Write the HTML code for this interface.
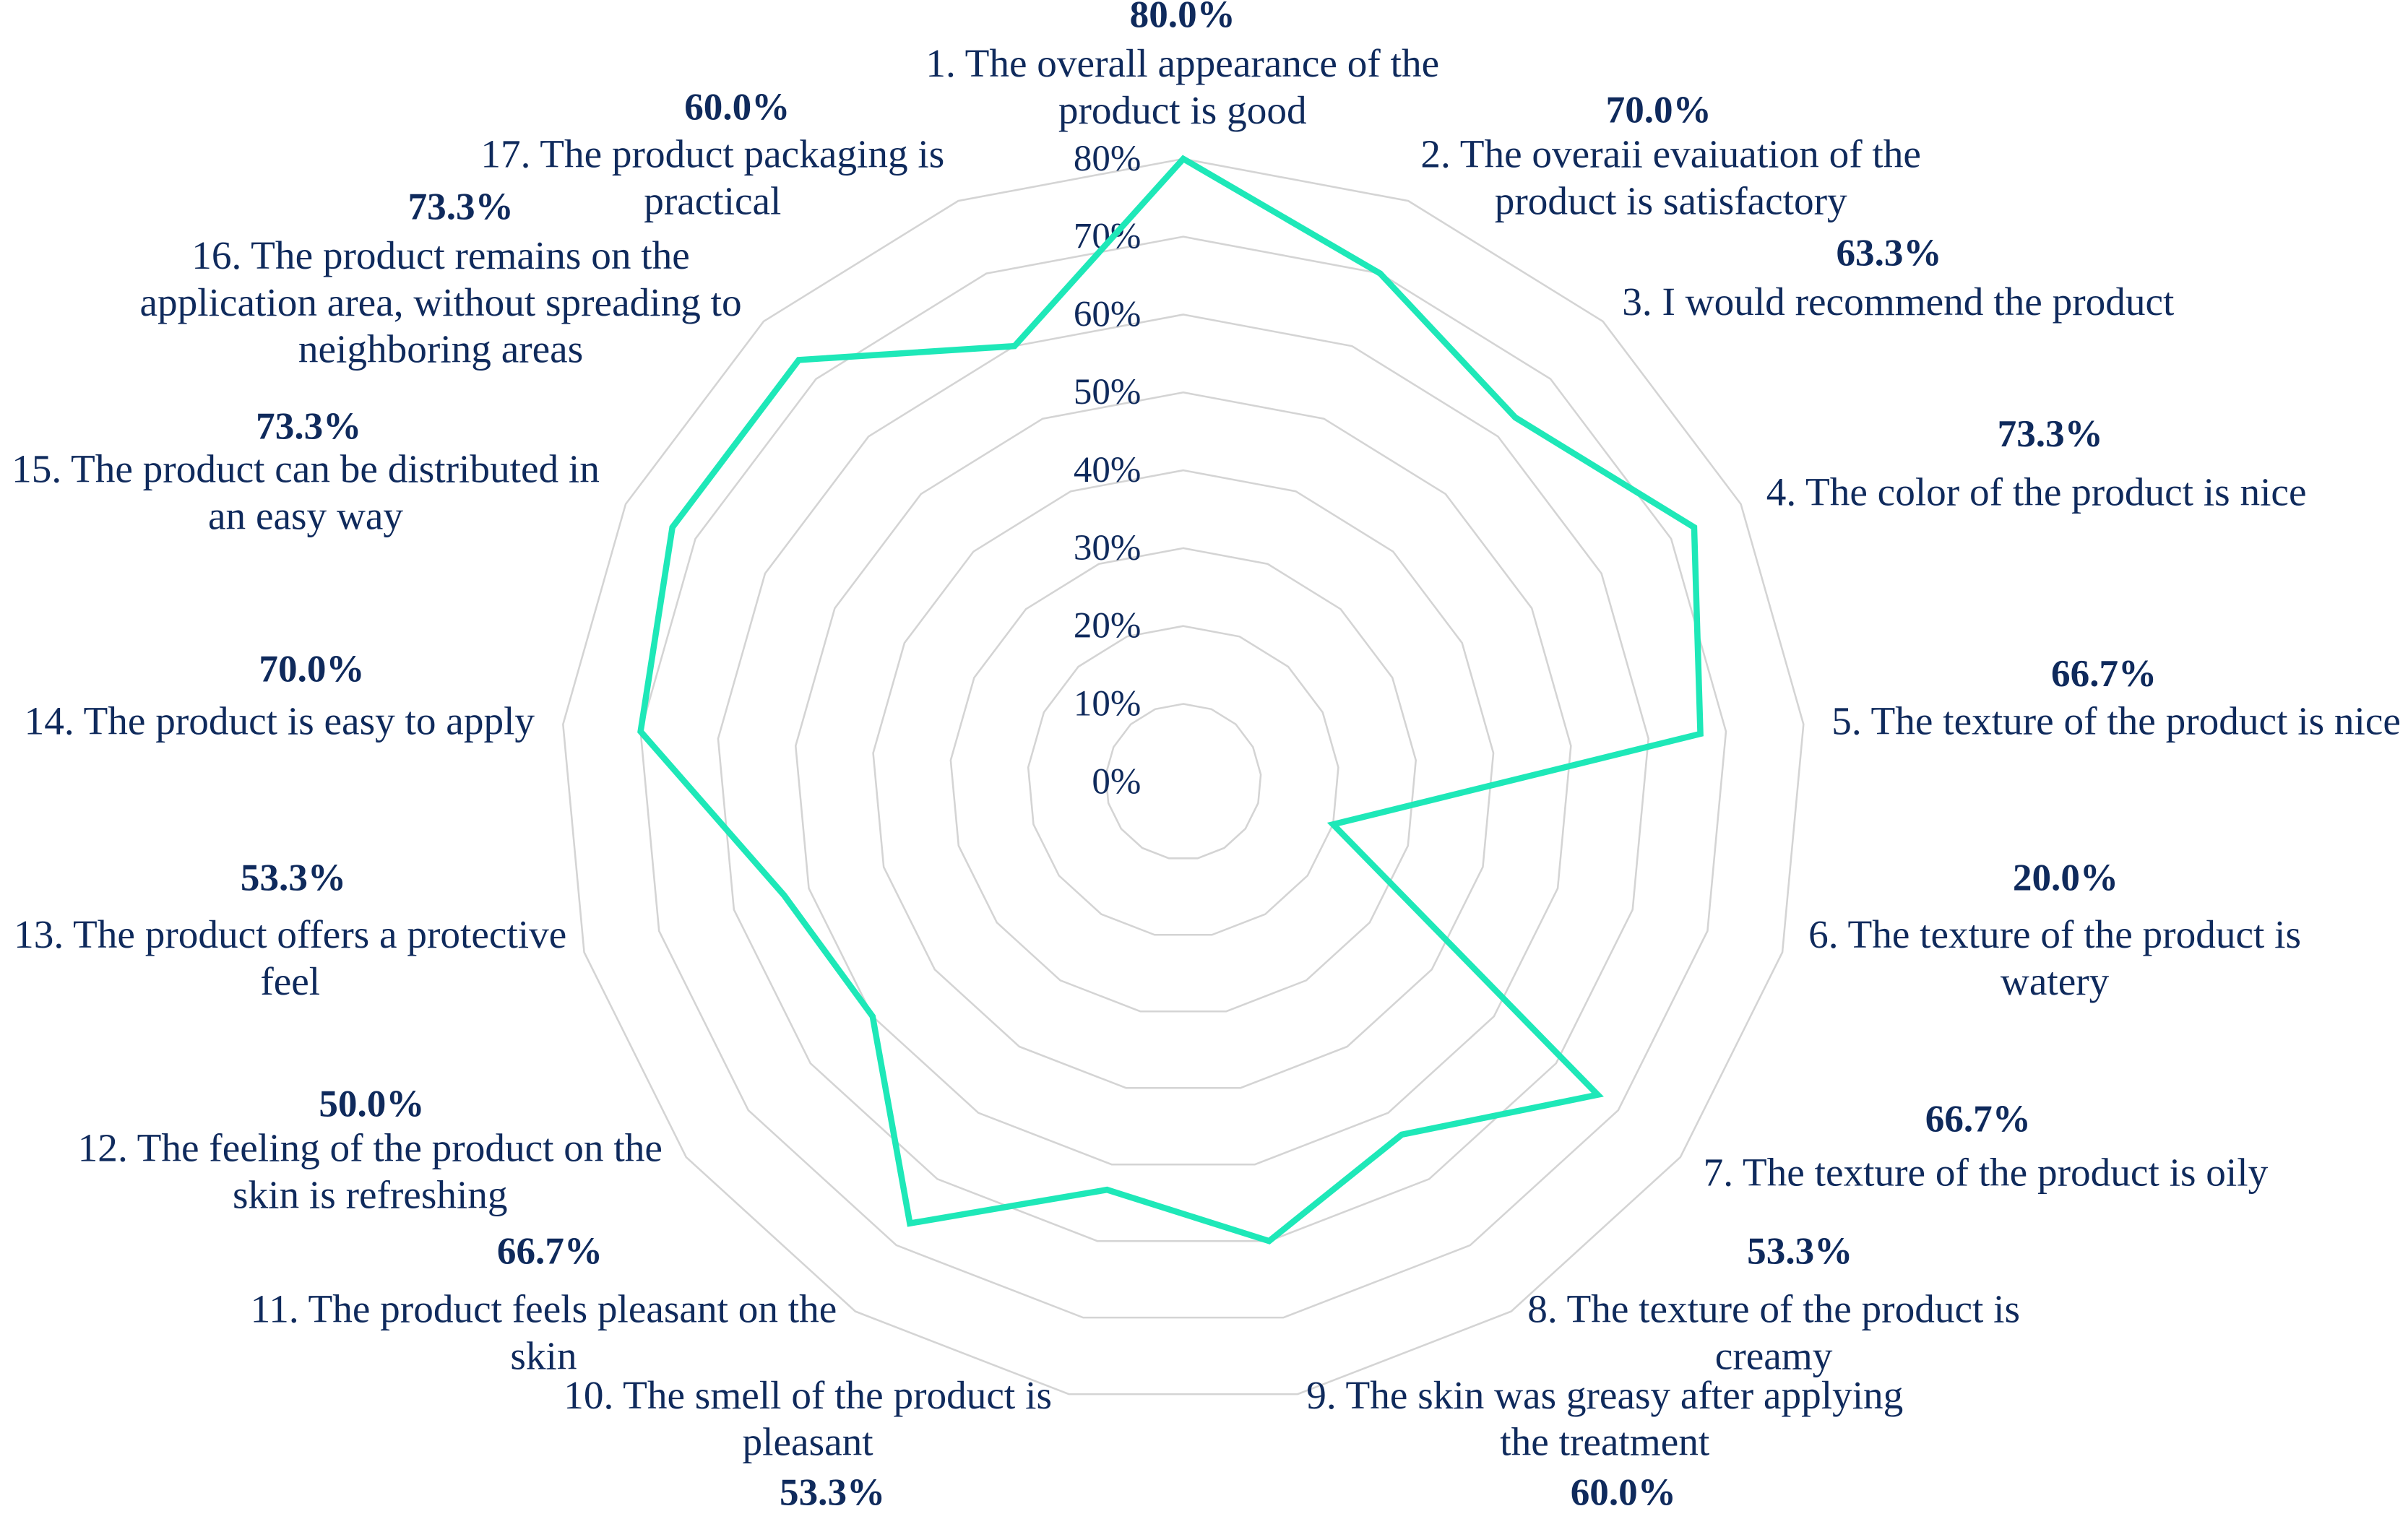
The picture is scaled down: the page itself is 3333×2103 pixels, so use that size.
<!DOCTYPE html>
<html><head><meta charset="utf-8"><style>
html,body{margin:0;padding:0;background:#fff;}
svg{display:block;}
text{font-family:"Liberation Serif",serif;fill:#0f2a5c;}
.v{font-weight:bold;}
</style></head><body>
<svg id="chart" width="3333" height="2103" viewBox="0 0 1568 989" preserveAspectRatio="none" xmlns="http://www.w3.org/2000/svg">
<g id="grid"></g>
<g id="ticks"></g>
<g id="series"></g>
<g id="labels"></g>
</svg>
<script>
const categories = [
 ["1. The overall appearance of the","product is good"],
 ["2. The overaii evaiuation of the","product is satisfactory"],
 ["3. I would recommend the product"],
 ["4. The color of the product is nice"],
 ["5. The texture of the product is nice"],
 ["6. The texture of the product is","watery"],
 ["7. The texture of the product is oily"],
 ["8. The texture of the product is","creamy"],
 ["9. The skin was greasy after applying","the treatment"],
 ["10. The smell of the product is","pleasant"],
 ["11. The product feels pleasant on the","skin"],
 ["12. The feeling of the product on the","skin is refreshing"],
 ["13. The product offers a protective","feel"],
 ["14. The product is easy to apply"],
 ["15. The product can be distributed in","an easy way"],
 ["16. The product remains on the","application area, without spreading to","neighboring areas"],
 ["17. The product packaging is","practical"]
];
const values = [80.0,70.0,63.3,73.3,66.7,20.0,66.7,53.3,60.0,53.3,66.7,50.0,53.3,70.0,73.3,73.3,60.0];
const tickLabels = ["0%","10%","20%","30%","40%","50%","60%","70%","80%"];
const tickValues = [0,10,20,30,40,50,60,70,80];
// label layout: [valueX, valueY, textX, firstLineY, valueBelow]
const labelPos = [
 [770,10,770,42,0],[1080,72,1088,101,0],[1230,165,1236,197,0],[1335,283,1326,321,0],
 [1370,439,1378,470,0],[1345,572,1338,609,0],[1288,729,1293,764,0],[1172,815,1155,853,0],
 [1057,972,1045,909,1],[542,972,526,909,1],[358,815,354,853,0],[242,719,241,748,0],
 [191,572,189,609,0],[203,436,182,470,0],[201,278,199,306,0],[300,135,287,167,0],[480,70,464,101,0]
];
const NS="http://www.w3.org/2000/svg";
const cx=770.5, cy=509, rPer=50.7, N=categories.length;
function pt(v,i){const a=i*2*Math.PI/N;return [cx+v*rPer/10*Math.sin(a), cy-v*rPer/10*Math.cos(a)];}
function mk(tag,attrs,parent){const e=document.createElementNS(NS,tag);for(const k in attrs)e.setAttribute(k,attrs[k]);parent.appendChild(e);return e;}
const grid=document.getElementById('grid');
tickValues.forEach(t=>{ if(t===0) return;
 const pts=[];for(let i=0;i<N;i++)pts.push(pt(t,i).join(','));
 const p=mk('polygon',{points:pts.join(' '),fill:'none',stroke:'#d4d4d4','stroke-width':1.2},grid);
 
 
});
const ticks=document.getElementById('ticks');
tickValues.forEach((t,k)=>{
 const y=cy-t*rPer/10+2;
 const e=mk('text',{x:743,y:y,'text-anchor':'end','dominant-baseline':'middle','font-size':24},ticks);
 e.textContent=tickLabels[k];
 
 
});
const series=document.getElementById('series');
const spts=values.map((v,i)=>pt(v,i).join(','));
const poly=mk('polygon',{points:spts.join(' '),fill:'none',stroke:'#1ee8b8','stroke-width':4,'stroke-linejoin':'miter'},series);


const labels=document.getElementById('labels');
categories.forEach((lines,i)=>{
 const [vx,vy,tx,ty,below]=labelPos[i];
 const v=mk('text',{x:vx,y:vy+2,'text-anchor':'middle','dominant-baseline':'middle','font-size':25,class:'v'},labels);
 v.textContent=values[i].toFixed(1)+'%';
 
 
 lines.forEach((ln,j)=>{
  const t=mk('text',{x:tx,y:ty+2+j*30.5,'text-anchor':'middle','dominant-baseline':'middle','font-size':26},labels);
  t.textContent=ln;
  
  
 });
});
</script>
</body></html>
